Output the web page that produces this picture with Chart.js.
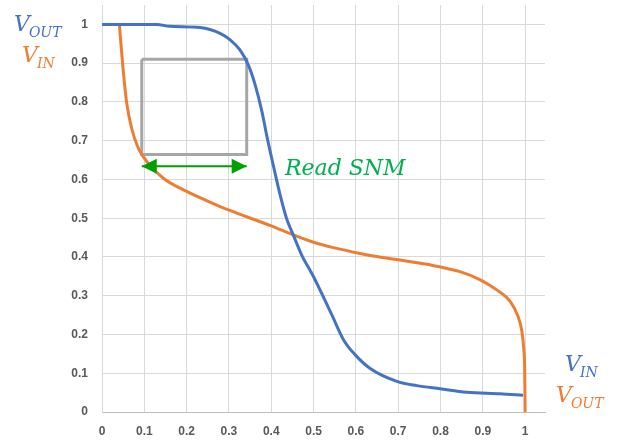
<!DOCTYPE html>
<html>
<head>
<meta charset="utf-8">
<script src="https://cdn.jsdelivr.net/npm/chart.js@4"></script>
<style>
  html, body { margin: 0; padding: 0; background: #fff; }
  canvas { display: block; }
</style>
</head>
<body>
<canvas id="snmChart" width="618" height="443"></canvas>
<script>
// butterfly curve
const voutX = [0, 0.129, 0.16, 0.232, 0.279, 0.303, 0.326, 0.346, 0.362, 0.378, 0.389, 0.401, 0.421, 0.436, 0.452, 0.474, 0.492, 0.5, 0.543, 0.571, 0.598, 0.633, 0.697, 0.744, 0.799, 0.862, 0.941, 0.995];
const voutY = [1, 1, 0.995, 0.992, 0.977, 0.96, 0.934, 0.895, 0.844, 0.775, 0.715, 0.655, 0.56, 0.5, 0.457, 0.4, 0.365, 0.349, 0.251, 0.186, 0.148, 0.113, 0.079, 0.068, 0.06, 0.051, 0.047, 0.043];

const vinX = [0.041, 0.049, 0.058, 0.07, 0.086, 0.106, 0.145, 0.2, 0.271, 0.302, 0.4, 0.452, 0.5, 0.547, 0.61, 0.649, 0.704, 0.768, 0.846, 0.894, 0.933, 0.965, 0.982, 0.992, 0.997, 0.999, 1];
const vinY = [1, 0.895, 0.8, 0.732, 0.68, 0.646, 0.603, 0.569, 0.534, 0.52, 0.48, 0.457, 0.438, 0.424, 0.409, 0.401, 0.392, 0.381, 0.362, 0.341, 0.315, 0.285, 0.25, 0.21, 0.16, 0.11, 0];

// SNM square and arrow
const boxX = [0.094, 0.342, 0.342, 0.094, 0.094];
const boxY = [0.910, 0.910, 0.664, 0.664, 0.910];
const arrowX = [0.094, 0.342];
const arrowY = [0.634, 0.634];

const tickVals = [0, 0.1, 0.2, 0.3, 0.4, 0.5, 0.6, 0.7, 0.8, 0.9, 1];
const tickLabels = ['0', '0.1', '0.2', '0.3', '0.4', '0.5', '0.6', '0.7', '0.8', '0.9', '1'];

const toPts = (xs, ys) => xs.map((x, i) => ({ x: x, y: ys[i] }));

const BLUE = '#4472c4';
const ORANGE = '#ed7d31';

// arrow heads + the V labels
const extras = {
  id: 'extras',
  afterDatasetsDraw(chart) {
    const ctx = chart.ctx;
    const xs = chart.scales.x, ys = chart.scales.y;
    const y = ys.getPixelForValue(arrowY[0]);
    const x0 = xs.getPixelForValue(arrowX[0]);
    const x1 = xs.getPixelForValue(arrowX[1]);
    ctx.save();
    ctx.fillStyle = '#00a000';
    ctx.beginPath();
    ctx.moveTo(x0, y); ctx.lineTo(x0 + 15, y - 7.5); ctx.lineTo(x0 + 15, y + 7.5); ctx.closePath();
    ctx.fill();
    ctx.beginPath();
    ctx.moveTo(x1, y); ctx.lineTo(x1 - 15, y - 7.5); ctx.lineTo(x1 - 15, y + 7.5); ctx.closePath();
    ctx.fill();

    const sub = (main, s, x, y, col) => {
      ctx.fillStyle = col;
      ctx.font = 'italic 22px "DejaVu Serif"';
      ctx.fillText(main, x, y);
      const w = ctx.measureText(main).width;
      ctx.font = 'italic 14px "DejaVu Serif"';
      ctx.fillText(s, x + w - 1, y + 6);
    };
    ctx.textBaseline = 'alphabetic';
    ctx.textAlign = 'left';
    sub('V', 'OUT', 14, 31, BLUE);
    sub('V', 'IN', 22, 62, ORANGE);
    sub('V', 'IN', 565, 371, BLUE);
    sub('V', 'OUT', 556, 402, ORANGE);

    ctx.fillStyle = '#00b050';
    ctx.font = 'italic 22px "DejaVu Serif"';
    ctx.fillText('Read SNM', 285, 175);
    ctx.restore();
  }
};

new Chart(document.getElementById('snmChart'), {
  type: 'scatter',
  data: {
    datasets: [
      { label: 'box', data: toPts(boxX, boxY), showLine: true, borderColor: '#a6a6a6', borderWidth: 3, pointRadius: 0, tension: 0, order: 3 },
      { label: 'arrow', data: toPts(arrowX, arrowY), showLine: true, borderColor: '#00a000', borderWidth: 2, pointRadius: 0, tension: 0, order: 3 },
      { label: 'VOUT', data: toPts(voutX, voutY), showLine: true, borderColor: BLUE, borderWidth: 3, pointRadius: 0, cubicInterpolationMode: 'monotone', order: 1 },
      { label: 'VIN', data: toPts(vinX, vinY), showLine: true, borderColor: ORANGE, borderWidth: 3, pointRadius: 0, cubicInterpolationMode: 'monotone', order: 2 }
    ]
  },
  options: {
    responsive: false,
    animation: false,
    layout: { padding: { left: 0, top: 5, right: 73, bottom: 0 } },
    plugins: { legend: { display: false }, tooltip: { enabled: false } },
    scales: {
      x: {
        type: 'linear', min: 0, max: 1.047,
        afterBuildTicks: s => { s.ticks = tickVals.map(v => ({ value: v })); },
        afterFit: s => { s.height = 31; s.paddingLeft = 0; s.paddingRight = 0; },
        ticks: {
          padding: 12, color: '#595959',
          font: { family: '"Liberation Sans"', size: 12, weight: 'bold' },
          callback: (v, i) => tickLabels[i]
        },
        grid: { color: '#d9d9d9', drawTicks: false },
        border: { color: '#bfbfbf' }
      },
      y: {
        type: 'linear', min: 0, max: 1.05,
        afterBuildTicks: s => { s.ticks = tickVals.map(v => ({ value: v })); },
        afterFit: s => { s.width = 102; s.paddingTop = 0; s.paddingBottom = 0; },
        ticks: {
          padding: 14, color: '#595959',
          font: { family: '"Liberation Sans"', size: 12, weight: 'bold' },
          callback: (v, i) => tickLabels[i]
        },
        grid: { color: '#d9d9d9', drawTicks: false },
        border: { color: '#d9d9d9' }
      }
    }
  },
  plugins: [extras]
});
</script>
</body>
</html>
